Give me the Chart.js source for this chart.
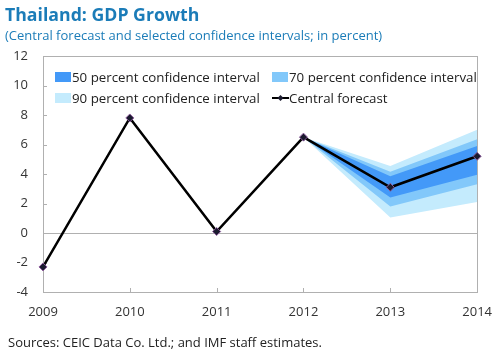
<!DOCTYPE html>
<html>
<head>
<meta charset="utf-8">
<script src="https://cdn.jsdelivr.net/npm/chart.js@4.4.1/dist/chart.umd.min.js"></script>
<style>
  html, body { margin: 0; padding: 0; background: #fff; }
  #wrap { width: 504px; height: 351px; position: relative; }
</style>
</head>
<body>
<div id="wrap"><canvas id="gdpChart"></canvas></div>
<script>
// data
const years = ['2009', '2010', '2011', '2012', '2013', '2014'];
const central = [-2.3, 7.8, 0.1, 6.5, 3.1, 5.2];
const ci50Upper = [null, null, null, 6.5, 3.85, 5.9];
const ci50Lower = [null, null, null, 6.5, 2.4, 3.95];
const ci70Upper = [null, null, null, 6.5, 4.15, 6.35];
const ci70Lower = [null, null, null, 6.5, 1.8, 3.3];
const ci90Upper = [null, null, null, 6.5, 4.55, 7.0];
const ci90Lower = [null, null, null, 6.5, 1.05, 2.1];
const yTicks = [-4, -2, 0, 2, 4, 6, 8, 10, 12];

const fontName = '"Open Sans", "Noto Sans", sans-serif';
const blue50 = '#4399f8';
const blue70 = '#82c8fa';
const blue90 = '#c4ebfd';
const frameGray = '#b0b0b0';

// titles, legend, frame and inward ticks are drawn here
const decor = {
  id: 'decor',
  beforeDatasetsDraw(chart) {
    const ctx = chart.ctx;
    const a = chart.chartArea;
    const y = chart.scales.y;
    const x = chart.scales.x;
    ctx.save();
    ctx.strokeStyle = frameGray;
    ctx.lineWidth = 1;
    // zero line
    const y0 = Math.round(y.getPixelForValue(0)) + 0.5;
    ctx.beginPath();
    ctx.moveTo(a.left, y0);
    ctx.lineTo(a.right, y0);
    // y ticks pointing in
    yTicks.forEach(v => {
      const py = Math.round(y.getPixelForValue(v)) + 0.5;
      ctx.moveTo(a.left, py);
      ctx.lineTo(a.left + 4, py);
    });
    // x ticks pointing up
    years.forEach((yr, i) => {
      const px = Math.round(x.getPixelForValue(i)) + 0.5;
      ctx.moveTo(px, a.bottom);
      ctx.lineTo(px, a.bottom - 4);
    });
    ctx.stroke();
    ctx.strokeRect(Math.round(a.left) + 0.5, Math.round(a.top) + 0.5,
      Math.round(a.right - a.left), Math.round(a.bottom - a.top));
    ctx.restore();
  },
  afterDraw(chart) {
    const ctx = chart.ctx;
    ctx.save();
    ctx.textBaseline = 'alphabetic';
    ctx.fillStyle = '#1b7cb8';
    ctx.font = 'bold 17.7px ' + fontName;
    ctx.fillText('Thailand: GDP Growth', 5, 21);
    ctx.font = '13px ' + fontName;
    ctx.fillText('(Central forecast and selected confidence intervals; in percent)', 5, 40);

    ctx.fillStyle = '#222';
    ctx.font = '13px ' + fontName;
    ctx.fillText('Sources: CEIC Data Co. Ltd.; and IMF staff estimates.', 8, 347);

    // legend inside the plot
    const items = [
      { label: '50 percent confidence interval', color: blue50, x: 55, y: 77 },
      { label: '70 percent confidence interval', color: blue70, x: 272, y: 77 },
      { label: '90 percent confidence interval', color: blue90, x: 55, y: 98 },
      { label: 'Central forecast', color: null, x: 272, y: 98 }
    ];
    ctx.font = '13.3px ' + fontName;
    ctx.textBaseline = 'middle';
    items.forEach(it => {
      if (it.color) {
        ctx.fillStyle = it.color;
        ctx.fillRect(it.x, it.y - 5, 16, 10);
      } else {
        ctx.strokeStyle = '#000';
        ctx.lineWidth = 2;
        ctx.beginPath();
        ctx.moveTo(it.x, it.y);
        ctx.lineTo(it.x + 17, it.y);
        ctx.stroke();
        ctx.fillStyle = '#1a1a2e';
        ctx.beginPath();
        ctx.moveTo(it.x + 8.5, it.y - 3);
        ctx.lineTo(it.x + 11.5, it.y);
        ctx.lineTo(it.x + 8.5, it.y + 3);
        ctx.lineTo(it.x + 5.5, it.y);
        ctx.closePath();
        ctx.fill();
      }
      ctx.fillStyle = '#222';
      ctx.fillText(it.label, it.x + 17, it.y + 1);
    });
    ctx.restore();
  }
};

function band(data, color, fill) {
  return {
    data: data,
    borderWidth: 0,
    borderColor: 'rgba(0,0,0,0)',
    backgroundColor: color,
    pointRadius: 0,
    fill: fill,
    tension: 0
  };
}

new Chart(document.getElementById('gdpChart'), {
  type: 'line',
  data: {
    labels: years,
    datasets: [
      {
        data: central,
        borderColor: '#000',
        borderWidth: 2.5,
        pointStyle: 'rectRot',
        pointRadius: 4,
        pointBackgroundColor: '#1a1a2e',
        pointBorderColor: '#8a5a9a',
        pointBorderWidth: 1,
        fill: false,
        tension: 0
      },
      band(ci50Upper, blue50, '+1'),
      band(ci50Lower, blue50, false),
      band(ci70Upper, blue70, '+1'),
      band(ci70Lower, blue70, false),
      band(ci90Upper, blue90, '+1'),
      band(ci90Lower, blue90, false)
    ]
  },
  options: {
    responsive: true,
    maintainAspectRatio: false,
    animation: false,
    layout: { padding: { top: 56, right: 20, bottom: 31, left: 0 } },
    plugins: {
      legend: { display: false },
      title: { display: false },
      tooltip: { enabled: false }
    },
    scales: {
      x: {
        offset: false,
        grid: { display: false, drawTicks: false },
        border: { display: false },
        ticks: {
          color: '#333',
          font: { family: fontName, size: 13 },
          padding: 12,
          maxRotation: 0,
          autoSkip: false
        },
        afterFit(scale) { scale.height = 28; }
      },
      y: {
        min: -4,
        max: 12,
        afterBuildTicks(scale) { scale.ticks = yTicks.map(v => ({ value: v })); },
        grid: { display: false, drawTicks: false },
        border: { display: false },
        ticks: {
          color: '#333',
          font: { family: fontName, size: 13 },
          padding: 15
        },
        afterFit(scale) { scale.width = 43; }
      }
    }
  },
  plugins: [decor]
});
</script>
</body>
</html>
